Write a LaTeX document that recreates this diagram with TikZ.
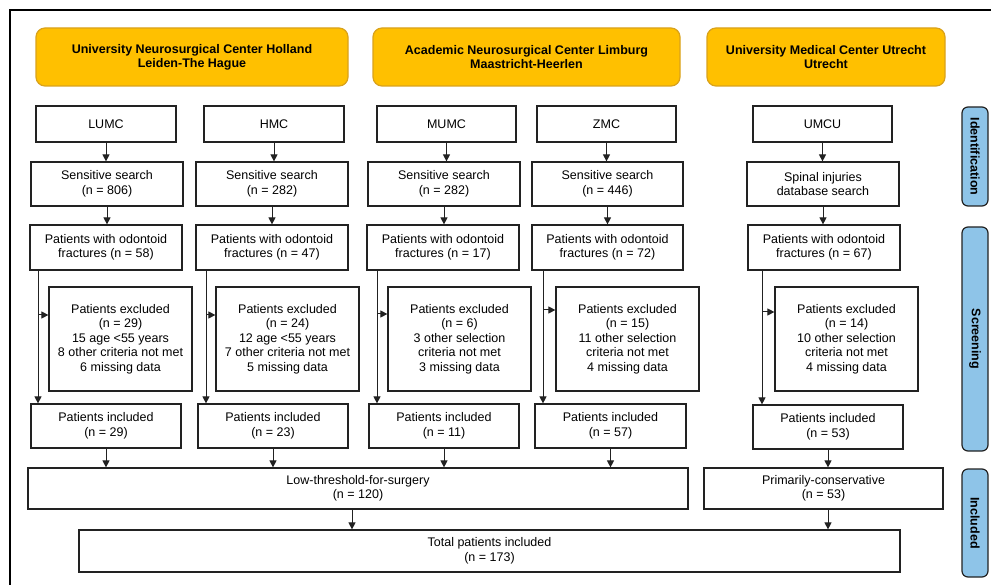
\documentclass[tikz,border=0pt]{standalone}
\usepackage{fontspec}
\setmainfont{Liberation Sans}
\usetikzlibrary{arrows.meta}
\definecolor{orangefill}{HTML}{FFC000}
\definecolor{orangeline}{HTML}{D9A21B}
\definecolor{bluefill}{HTML}{8EC4E8}
\definecolor{lineg}{HTML}{222222}
\begin{document}
\begin{tikzpicture}[x=1pt,y=-1pt,
  every node/.style={font=\fontsize{12.5}{14.5}\selectfont, align=center, inner sep=0pt},
  box/.style={draw=lineg, line width=1.2pt, fill=white, minimum height=#1},
  box/.default=44,
  center/.style={box=58, draw=orangeline, fill=orangefill, rounded corners=9pt, font=\fontsize{12.5}{14}\selectfont\bfseries},
  phase/.style={draw=lineg, line width=1.2pt, fill=bluefill, rounded corners=6pt, rotate=-90, minimum height=26, font=\fontsize{12.5}{14}\selectfont\bfseries},
  arr/.style={draw=lineg, line width=1pt, -{Triangle[length=7pt,width=7pt]}}
]
\useasboundingbox (0,0) rectangle (991,585);
\draw[line width=1.4pt] (991,10) -- (10,10) -- (10,585);

% centers
\node[center, minimum width=312] (c1) at (192,57) {University Neurosurgical Center Holland\\Leiden-The Hague};
\node[center, minimum width=307] (c2) at (526.5,57) {Academic Neurosurgical Center Limburg\\Maastricht-Heerlen};
\node[center, minimum width=238] (c3) at (826,57) {University Medical Center Utrecht\\Utrecht};

% row 1
\node[box=36, minimum width=140] (a1) at (106,124) {LUMC};
\node[box=36, minimum width=140] (a2) at (274,124) {HMC};
\node[box=36, minimum width=139] (a3) at (446.5,124) {MUMC};
\node[box=36, minimum width=139] (a4) at (606.5,124) {ZMC};
\node[box=36, minimum width=139] (a5) at (822.5,124) {UMCU};

% row 2
\node[box=44, minimum width=152] (s1) at (107,184) {Sensitive search\\(n = 806)};
\node[box=44, minimum width=152] (s2) at (272,184) {Sensitive search\\(n = 282)};
\node[box=44, minimum width=152] (s3) at (444,184) {Sensitive search\\(n = 282)};
\node[box=44, minimum width=151] (s4) at (607.5,184) {Sensitive search\\(n = 446)};
\node[box=44, minimum width=152] (s5) at (823,184) {Spinal injuries\\database search};

% row 3
\node[box=45, minimum width=152] (o1) at (106,247.5) {Patients with odontoid\\fractures (n = 58)};
\node[box=45, minimum width=152] (o2) at (272,247.5) {Patients with odontoid\\fractures (n = 47)};
\node[box=45, minimum width=152] (o3) at (443,247.5) {Patients with odontoid\\fractures (n = 17)};
\node[box=45, minimum width=151] (o4) at (607.5,247.5) {Patients with odontoid\\fractures (n = 72)};
\node[box=45, minimum width=152] (o5) at (824,247.5) {Patients with odontoid\\fractures (n = 67)};

% exclusions
\node[box=104, minimum width=143] (e1) at (120.5,339) {Patients excluded\\(n = 29)\\15 age <55 years\\8 other criteria not met\\6 missing data};
\node[box=104, minimum width=143] (e2) at (287.5,339) {Patients excluded\\(n = 24)\\12 age <55 years\\7 other criteria not met\\5 missing data};
\node[box=104, minimum width=143] (e3) at (459.5,339) {Patients excluded\\(n = 6)\\3 other selection\\criteria not met\\3 missing data};
\node[box=104, minimum width=143] (e4) at (627.5,339) {Patients excluded\\(n = 15)\\11 other selection\\criteria not met\\4 missing data};
\node[box=104, minimum width=143] (e5) at (846.5,339) {Patients excluded\\(n = 14)\\10 other selection\\criteria not met\\4 missing data};

% included
\node[box=44, minimum width=150] (i1) at (106,426) {Patients included\\(n = 29)};
\node[box=44, minimum width=150] (i2) at (273,426) {Patients included\\(n = 23)};
\node[box=44, minimum width=150] (i3) at (444,426) {Patients included\\(n = 11)};
\node[box=44, minimum width=151] (i4) at (610.5,426) {Patients included\\(n = 57)};
\node[box=44, minimum width=150] (i5) at (828,427) {Patients included\\(n = 53)};

% groups
\node[box=41, minimum width=660] (lts) at (358,488.5) {Low-threshold-for-surgery\\(n = 120)};
\node[box=41, minimum width=239] (pc) at (823.5,488.5) {Primarily-conservative\\(n = 53)};
\node[box=42, minimum width=821] (tot) at (489.5,551) {Total patients included\\(n = 173)};

% phases
\node[phase, minimum width=99] (pid) at (975,156.5) {Identification};
\node[phase, minimum width=224] (psc) at (975,339) {Screening};
\node[phase, minimum width=108] (pin) at (975,523) {Included};

% arrows rows 1-3
\foreach \i in {1,...,5}{
  \draw[arr] (a\i.south) -- (a\i.south |- s\i.north);
  \draw[arr] (s\i.south) -- (s\i.south |- o\i.north);
  \draw[arr] (i\i.south) -- (i\i.south |- lts.north);
}

% exclusion branches
\coordinate (v1) at (38,315);
\coordinate (v2) at (206,315);
\coordinate (v3) at (377,314);
\coordinate (v4) at (543,310);
\coordinate (v5) at (762,312);
\foreach \i in {1,...,5}{
  \draw[arr] (v\i |- o\i.south) -- (v\i |- i\i.north);
  \draw[arr] (v\i) -- (v\i -| e\i.west);
}

% to total
\coordinate (lt) at (352,509);
\draw[arr] (lt) -- (lt |- tot.north);
\draw[arr] (i5.south |- pc.south) -- (i5.south |- tot.north);
\end{tikzpicture}
\end{document}
